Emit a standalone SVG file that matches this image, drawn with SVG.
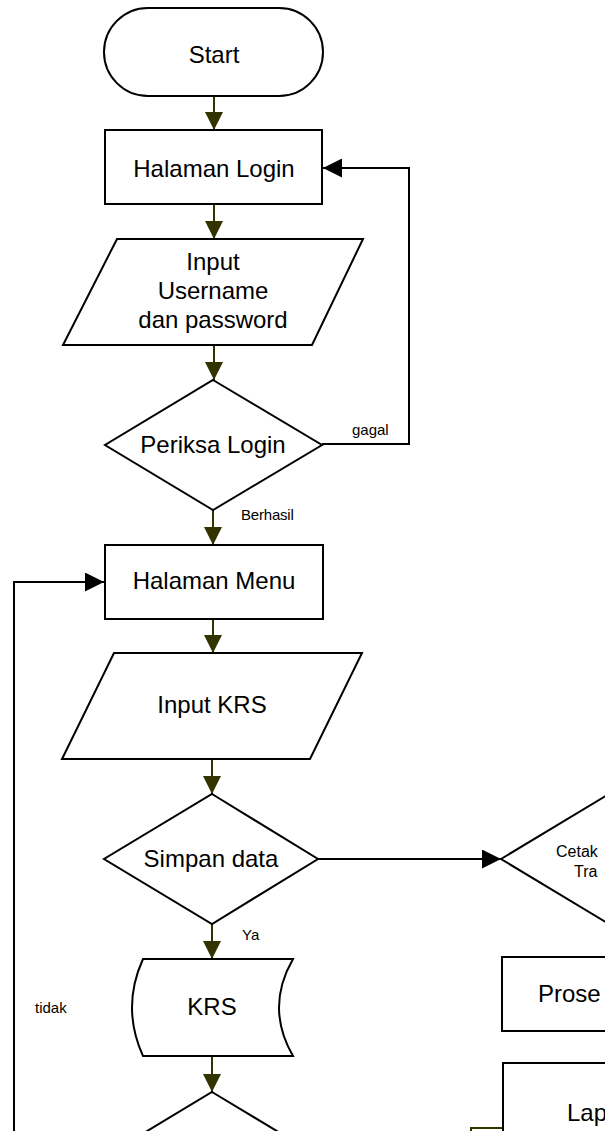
<svg xmlns="http://www.w3.org/2000/svg" width="605" height="1131" viewBox="0 0 605 1131">
  <defs>
    <style>
      .shape { fill: #ffffff; stroke: #000000; stroke-width: 2; }
      .flow { fill: none; stroke: #333300; stroke-width: 2; }
      .back { fill: none; stroke: #000000; stroke-width: 2; }
      .label { font-family: "Liberation Sans", Arial, sans-serif; font-size: 24px; fill: #000000; text-anchor: middle; }
      .label-left { font-family: "Liberation Sans", Arial, sans-serif; font-size: 24px; fill: #000000; text-anchor: start; }
      .small { font-family: "Liberation Sans", Arial, sans-serif; font-size: 15px; fill: #000000; }
      .mid { font-family: "Liberation Sans", Arial, sans-serif; font-size: 16px; fill: #000000; }
    </style>
    <marker id="ah-olive" viewBox="0 0 18 18" refX="18" refY="9" markerWidth="18" markerHeight="18" markerUnits="userSpaceOnUse" orient="auto">
      <path d="M0,0 L18,9 L0,18 Z" fill="#333300"/>
    </marker>
    <marker id="ah-black" viewBox="0 0 19 19" refX="19" refY="9.5" markerWidth="19" markerHeight="19" markerUnits="userSpaceOnUse" orient="auto">
      <path d="M0,0 L19,9.5 L0,19 Z" fill="#000000"/>
    </marker>
  </defs>

  <rect width="605" height="1131" fill="#ffffff"/>

  <!-- connectors -->
  <g id="connectors">
    <line class="flow" x1="214" y1="96" x2="214" y2="130" marker-end="url(#ah-olive)"/>
    <line class="flow" x1="214" y1="204" x2="214" y2="239" marker-end="url(#ah-olive)"/>
    <line class="flow" x1="214" y1="345" x2="214" y2="380" marker-end="url(#ah-olive)"/>
    <polyline class="back" points="322,444 409,444 409,168 323,168" marker-end="url(#ah-black)"/>
    <line class="flow" x1="213" y1="510" x2="213" y2="545" marker-end="url(#ah-olive)"/>
    <polyline class="back" points="14,1140 14,582 104,582" marker-end="url(#ah-black)"/>
    <line class="flow" x1="213" y1="619" x2="213" y2="653" marker-end="url(#ah-olive)"/>
    <line class="flow" x1="212" y1="759" x2="212" y2="794" marker-end="url(#ah-olive)"/>
    <line class="back" x1="318" y1="859" x2="501" y2="859" marker-end="url(#ah-black)"/>
    <line class="flow" x1="212" y1="924" x2="212" y2="959" marker-end="url(#ah-olive)"/>
    <line class="flow" x1="212" y1="1056" x2="212" y2="1092" marker-end="url(#ah-olive)"/>
    <rect x="471" y="1128" width="32" height="12" fill="none" stroke="#333300" stroke-width="2"/>
    <text class="small" x="352" y="435">gagal</text>
    <text class="small" x="241" y="520" letter-spacing="-0.2">Berhasil</text>
    <text class="small" x="242" y="940">Ya</text>
    <text class="small" x="35" y="1013">tidak</text>
  </g>

  <g id="start">
    <rect class="shape" x="104" y="8" width="219" height="88" rx="44" ry="44"/>
    <text class="label" x="214" y="63">Start</text>
  </g>

  <g id="halaman-login">
    <rect class="shape" x="105" y="130" width="217" height="74"/>
    <text class="label" x="214" y="177">Halaman Login</text>
  </g>

  <g id="input-login">
    <polygon class="shape" points="117,239 363,239 312,345 63,345"/>
    <text class="label" x="213" y="270">Input</text>
    <text class="label" x="213" y="299">Username</text>
    <text class="label" x="213" y="328">dan password</text>
  </g>

  <g id="periksa-login">
    <polygon class="shape" points="213,380 322,445 213,510 105,445"/>
    <text class="label" x="213" y="453">Periksa Login</text>
  </g>

  <g id="halaman-menu">
    <rect class="shape" x="105" y="545" width="218" height="74"/>
    <text class="label" x="214" y="589">Halaman Menu</text>
  </g>

  <g id="input-krs">
    <polygon class="shape" points="114,653 362,653 310,759 62,759"/>
    <text class="label" x="212" y="713">Input KRS</text>
  </g>

  <g id="simpan-data">
    <polygon class="shape" points="212,794 318,859 212,924 104,859"/>
    <text class="label" x="211" y="867">Simpan data</text>
  </g>

  <g id="krs">
    <path class="shape" d="M143,959 L293,959 Q265,1007.5 293,1056 L143,1056 Q121,1007.5 143,959 Z"/>
    <text class="label" x="212" y="1015">KRS</text>
  </g>

  <g id="cek-data">
    <polygon class="shape" points="212,1092 320,1157 212,1222 104,1157"/>
  </g>

  <g id="cetak">
    <polygon class="shape" points="501,859 609,794 717,859 609,924"/>
    <text class="mid" x="556" y="857">Cetak</text>
    <text class="mid" x="574" y="877">Tra</text>
  </g>

  <g id="proses">
    <rect class="shape" x="502" y="957" width="160" height="74"/>
    <text class="label-left" x="538" y="1002">Prose</text>
  </g>

  <g id="laporan">
    <rect class="shape" x="503" y="1063" width="160" height="100"/>
    <text class="label-left" x="567" y="1121">Lap</text>
  </g>
</svg>
